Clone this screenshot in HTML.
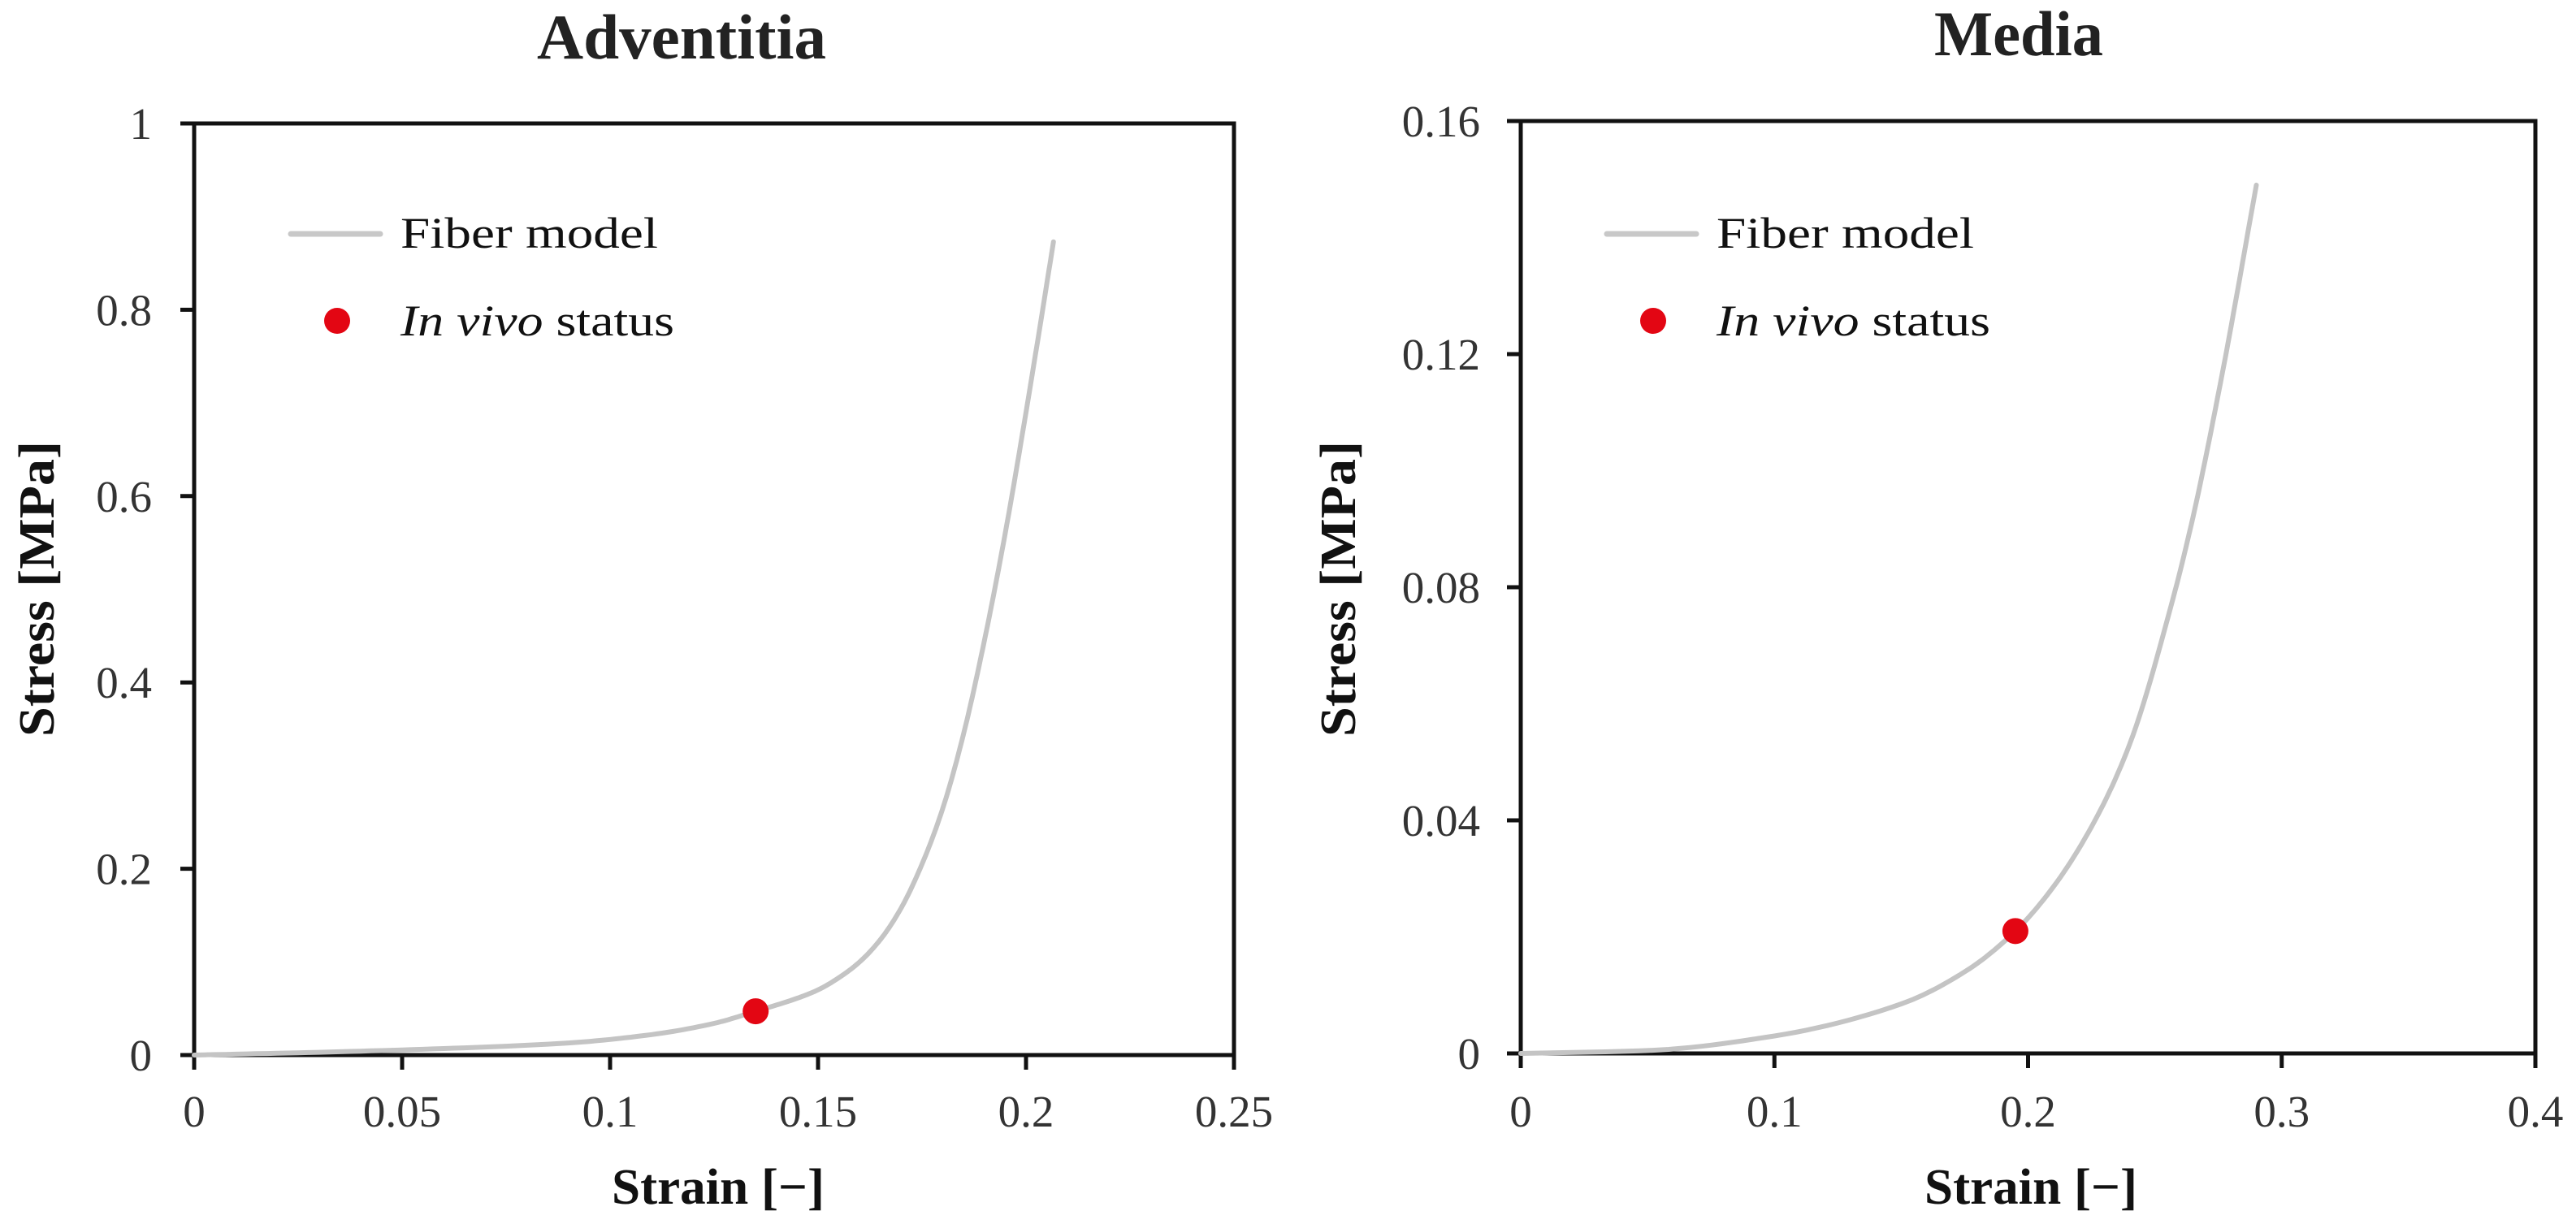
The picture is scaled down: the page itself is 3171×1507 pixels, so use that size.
<!DOCTYPE html>
<html><head><meta charset="utf-8"><style>
html,body{margin:0;padding:0;background:#fff;}
svg{display:block;}
text{font-family:"Liberation Serif",serif;fill:#222;}
.tick{font-size:55px;fill:#333;}
.ttl{font-weight:bold;font-size:62px;fill:#111;}
.leg{font-size:54px;fill:#111;}
</style></head><body>
<svg id="chart" width="3171" height="1507" viewBox="0 0 3171 1507" xmlns="http://www.w3.org/2000/svg">
<rect width="3171" height="1507" fill="#fff"/>
<g id="p1"></g>
<g id="p2"></g>
</svg>
<script>
// Adventitia data
const advStrain = [0,0.03,0.06,0.09,0.11,0.125,0.135,0.145,0.15,0.155,0.16,0.165,0.17,0.175,0.18,0.185,0.19,0.195,0.2,0.204,0.2066];
const advStress = [0,0.003,0.007,0.013,0.022,0.034,0.047,0.061,0.07,0.083,0.1,0.124,0.158,0.205,0.265,0.345,0.445,0.56,0.69,0.8,0.873];
const advPoint = [0.135,0.047];
const advXTicks = ["0","0.05","0.1","0.15","0.2","0.25"];
const advYTicks = ["0","0.2","0.4","0.6","0.8","1"];
// Media data
const medStrain = [0,0.05,0.1,0.15,0.175,0.195,0.21,0.2264,0.24,0.2565,0.265,0.2767,0.29];
const medStress = [0,0.0005,0.003,0.0085,0.014,0.021,0.0286,0.04,0.053,0.077,0.092,0.117,0.149];
const medPoint = [0.195,0.021];
const medXTicks = ["0","0.1","0.2","0.3","0.4"];
const medYTicks = ["0","0.04","0.08","0.12","0.16"];

const NS="http://www.w3.org/2000/svg";
function mk(parent,tag,attrs,txt){const e=document.createElementNS(NS,tag);for(const k in attrs)e.setAttribute(k,attrs[k]);if(txt!==undefined)e.textContent=txt;parent.appendChild(e);return e;}

function monoSample(xs,ys,steps){
  const n=xs.length,d=[],m=new Array(n);
  for(let i=0;i<n-1;i++)d.push((ys[i+1]-ys[i])/(xs[i+1]-xs[i]));
  m[0]=d[0];m[n-1]=d[n-2];
  for(let i=1;i<n-1;i++){
    if(d[i-1]*d[i]<=0){m[i]=0;continue;}
    const h0=xs[i]-xs[i-1],h1=xs[i+1]-xs[i];
    const w1=2*h1+h0,w2=h1+2*h0;
    m[i]=(w1+w2)/(w1/d[i-1]+w2/d[i]);
  }
  const out=[];
  for(let i=0;i<n-1;i++){
    const h=xs[i+1]-xs[i];
    for(let k=0;k<steps;k++){
      const t=k/steps,t2=t*t,t3=t2*t;
      const y=(2*t3-3*t2+1)*ys[i]+(t3-2*t2+t)*h*m[i]+(-2*t3+3*t2)*ys[i+1]+(t3-t2)*h*m[i+1];
      out.push([xs[i]+t*h,y]);
    }
  }
  out.push([xs[n-1],ys[n-1]]);
  return out;
}

function panel(g,cfg){
  const {L,R,T,B,xmax,ymax,xs,ys,pt,xt,yt,title,tx,ty,tlen,yx,xtc,lx,ylabR} = cfg;
  const X=v=>L+(v/xmax)*(R-L), Y=v=>B-(v/ymax)*(B-T);
  let e;
  e=mk(g,"text",{x:tx,y:ty,"text-anchor":"middle","font-size":"78","font-weight":"bold",textLength:tlen,lengthAdjust:"spacingAndGlyphs"},title);
  
  
  e=mk(g,"rect",{x:L,y:T,width:R-L,height:B-T,fill:"none",stroke:"#111","stroke-width":5});
  
  
  xt.forEach((t,i)=>{
    const v=parseFloat(t);const x=X(v);
    e=mk(g,"line",{x1:x,y1:B,x2:x,y2:B+18,stroke:"#111","stroke-width":5});
    
    
    e=mk(g,"text",{x:x,y:1387,"text-anchor":"middle",class:"tick"},t);
    
    
  });
  yt.forEach((t,i)=>{
    const v=parseFloat(t);const y=Y(v);
    e=mk(g,"line",{x1:L-17,y1:y,x2:L,y2:y,stroke:"#111","stroke-width":5});
    
    
    e=mk(g,"text",{x:ylabR,y:y+19,"text-anchor":"end",class:"tick"},t);
    
    
  });
  e=mk(g,"text",{x:xtc,y:1482,"text-anchor":"middle",class:"ttl",textLength:262,lengthAdjust:"spacingAndGlyphs"},"Strain [\u2212]");
  
  
  e=mk(g,"text",{x:0,y:0,"text-anchor":"middle",class:"ttl",textLength:364,lengthAdjust:"spacingAndGlyphs",transform:"translate("+yx+",725) rotate(-90)"},"Stress [MPa]");
  
  
  const pts=monoSample(xs,ys,12).map(p=>X(p[0]).toFixed(1)+","+Y(p[1]).toFixed(1));
  e=mk(g,"polyline",{points:pts.join(" "),fill:"none",stroke:"#c4c4c4","stroke-width":6,"stroke-linecap":"round","stroke-linejoin":"round"});
  
  
  e=mk(g,"circle",{cx:X(pt[0]),cy:Y(pt[1]),r:16,fill:"#e30613"});
  
  
  e=mk(g,"line",{x1:lx,y1:288,x2:lx+110,y2:288,stroke:"#c8c8c8","stroke-width":7,"stroke-linecap":"round"});
  
  
  e=mk(g,"text",{x:lx+135,y:305,class:"leg",textLength:317,lengthAdjust:"spacingAndGlyphs"},"Fiber model");
  
  
  e=mk(g,"circle",{cx:lx+57,cy:395,r:16,fill:"#e30613"});
  
  
  const tt=mk(g,"text",{x:lx+135,y:413,class:"leg",textLength:337,lengthAdjust:"spacingAndGlyphs"});
  
  
  mk(tt,"tspan",{"font-style":"italic"},"In vivo");
  mk(tt,"tspan",{}," status");
}

panel(document.getElementById("p1"),{L:239,R:1519,T:152,B:1299,xmax:0.25,ymax:1,xs:advStrain,ys:advStress,pt:advPoint,xt:advXTicks,yt:advYTicks,title:"Adventitia",tx:839,ty:72,tlen:356,yx:66,xtc:884,lx:358,ylabR:187});
panel(document.getElementById("p2"),{L:1872,R:3121,T:149,B:1297,xmax:0.4,ymax:0.16,xs:medStrain,ys:medStress,pt:medPoint,xt:medXTicks,yt:medYTicks,title:"Media",tx:2485,ty:68,tlen:208,yx:1668,xtc:2500,lx:1978,ylabR:1822});
</script>
</body></html>
